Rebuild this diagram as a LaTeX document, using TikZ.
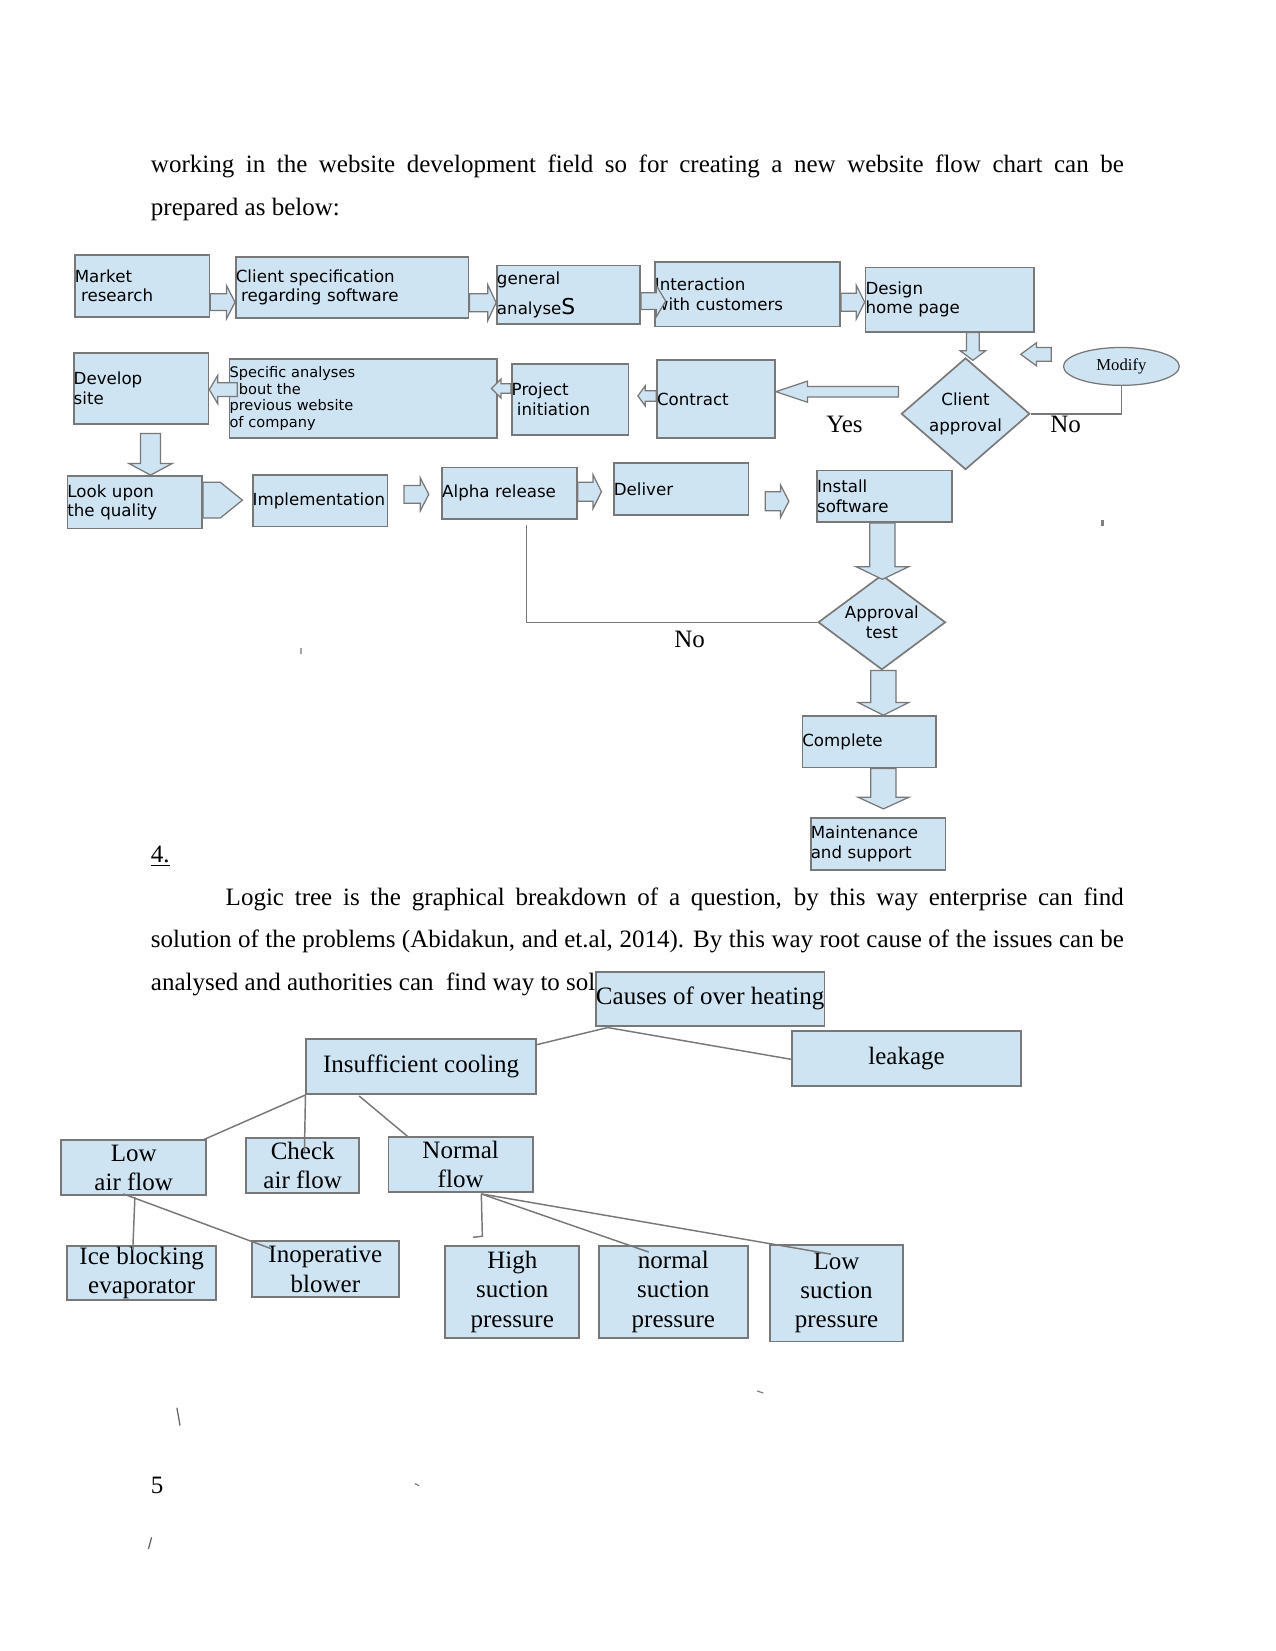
\documentclass[tikz,border=0pt]{standalone}
\usepackage{fontspec}
\setmainfont{Liberation Serif}
\newfontfamily\dvsans{DejaVu Sans}
\usetikzlibrary{calc,shapes.geometric}
\definecolor{boxfill}{RGB}{207,228,243}
\definecolor{boxline}{RGB}{120,120,120}

\newcommand\fb[7][]{%
 \pgfmathsetmacro\mybw{(#5-#3)*0.50534}%
 \pgfmathsetmacro\mybh{(#6-#4)*0.50534}%
 \node[fbox, minimum width=\mybw pt, minimum height=\mybh pt, text width=\mybw pt, #1] (#2) at ({(#3+#5)/2},{(#4+#6)/2}) {#7};}
\newcommand\tb[7][]{%
 \pgfmathsetmacro\mybw{(#5-#3)*0.50534}%
 \pgfmathsetmacro\mybh{(#6-#4)*0.50534}%
 \node[tbox, minimum width=\mybw pt, minimum height=\mybh pt, #1] (#2) at ({(#3+#5)/2},{(#4+#6)/2}) {#7};}
\newcommand\barrow[6][]{%
 \pgfmathsetmacro\bsw{#4*0.50534}%
 \pgfmathsetmacro\bhw{#5*0.50534}%
 \pgfmathsetmacro\bhl{#6*0.50534}%
 \coordinate (bA) at (#2);
 \coordinate (bB) at (#3);
 \coordinate (bH) at ($(bB)!\bhl pt!(bA)$);
 \draw[barr,#1] ($(bA)!\bsw pt!90:(bB)$) -- ($(bH)!\bsw pt!-90:(bA)$) -- ($(bH)!\bhw pt!-90:(bA)$) -- (bB) -- ($(bH)!\bhw pt!90:(bA)$) -- ($(bH)!\bsw pt!90:(bA)$) -- ($(bA)!\bsw pt!-90:(bB)$) -- cycle;}

\begin{document}
\begin{tikzpicture}[x=0.50534pt,y=-0.50534pt,
 fbox/.style={draw=boxline, fill=boxfill, line width=0.8pt, inner sep=0pt, align=left, font=\dvsans\fontsize{8}{9.4}\selectfont},
 tbox/.style={draw=boxline, fill=boxfill, line width=0.9pt, inner sep=0pt, align=center, font=\fontsize{12}{14}\selectfont},
 dia/.style={diamond, draw=boxline, fill=boxfill, line width=0.8pt, inner sep=0pt},
 dtext/.style={align=center, font=\dvsans\fontsize{8}{9.4}\selectfont, inner sep=0pt},
 barr/.style={draw=boxline, fill=boxfill, line width=0.6pt, line join=miter},
 conn/.style={draw=boxline, line width=0.7pt},
 lbl/.style={anchor=base, inner sep=0pt, font=\fontsize{12}{14}\selectfont},
 body/.style={anchor=base west, inner sep=0pt, font=\fontsize{12}{14}\selectfont}]

\useasboundingbox (0,0) rectangle (1211,1568);
\fill[white] (0,0) rectangle (1211,1568);

% body text
\node[body] (t1) at (143,164) {\makebox[466.9pt][s]{working in the website development field so for creating a new website flow chart can be}};
\node[body] (t2) at (143,205) {prepared as below:};
\node[body] (t3) at (143,819) {\underline{4.}};
\node[body] (t4) at (214,860) {\makebox[431pt][s]{Logic tree is the graphical breakdown of a question, by this way enterprise can find}};
\node[body] (t5) at (143,900) {\makebox[466.9pt][s]{solution of the problems (Abidakun, and et.al, 2014). By this way root cause of the issues can be}};
\node[body] (t6) at (143,941) {analysed and authorities can\ \ find way to sol};
\node[body] (t7) at (143,1418) {5};

% flowchart boxes
\fb{market}{71}{242}{199}{301}{Market\\\hspace*{3pt}research}
\fb{clientspec}{224}{244}{445}{302}{Client specification\\\hspace*{2.5pt}regarding software}
\fb{general}{472}{252}{608}{308}{general\\[4pt]analyse{\fontsize{10.5}{10}\selectfont S}}
\fb{interaction}{622}{249}{798}{310}{Interaction\\with customers}
\fb{design}{822}{254}{982}{315}{Design\\home page}
\fb{develop}{70}{335}{198}{403}{Develop\\site}
\fb[font=\dvsans\fontsize{7}{8.1}\selectfont]{specific}{218}{341}{472}{416}{Specific analyses\\\hspace*{4.5pt}bout the\\previous website\\of company}
\fb[font=\dvsans\fontsize{8}{9.6}\selectfont]{project}{486}{346}{597}{413}{Project\\\hspace*{2.5pt}initiation}
\fb{contract}{624}{342}{736}{416}{Contract}
\fb{lookupon}{64}{452}{192}{502}{Look upon\\the quality}
\fb{implementation}{240}{451}{368}{500}{Implementation}
\fb{alpha}{420}{444}{548}{493}{Alpha release}
\fb{deliver}{583}{440}{711}{489}{Deliver}
\fb{install}{776}{447}{904}{496}{Install\\software}
\fb{complete}{762}{680}{889}{729}{Complete}
\fb{maintenance}{770}{777}{898}{826}{Maintenance\\and support}

\node[dia, minimum width=61.65pt, minimum height=53.57pt,
  label={[dtext]center:Client\\[3pt]approval}] (capproval) at (917,393) {};
\node[dia, minimum width=61.15pt, minimum height=45.48pt,
  label={[dtext]center:Approval\\test}] (apptest) at (837.5,591) {};
\node[ellipse, draw=boxline, fill=boxfill, line width=0.6pt, minimum width=55.6pt, minimum height=18.2pt, inner sep=0pt, font=\fontsize{8}{9}\selectfont] (modify) at (1065,348) {Modify};

% flowchart connectors
\barrow{market.east |- 0,287}{clientspec.west |- 0,287}{8}{15.5}{8}
\barrow{clientspec.east |- 0,287.5}{general.west |- 0,287.5}{8.5}{17}{8}
\barrow{general.east |- 0,286}{$(interaction.west |- 0,286)+(11,0)$}{8}{15}{9}
\barrow{interaction.east |- 0,287}{design.west |- 0,287}{8.5}{16}{8}
\barrow{design.south -| 924,0}{$(capproval.north)+(7,3)$}{6}{12}{9}
\barrow{$(modify.west)+(-11,-11.5)$}{$(modify.west)+(-40,-11.5)$}{6.5}{11}{15}
\draw[conn] (capproval.east) -- (capproval.east -| modify.south) -- (modify.south);
\barrow{$(capproval.west)+(-2,-21)$}{contract.east |- 0,372}{5}{10}{30}
\barrow{contract.west |- 0,376}{$(project.east |- 0,376)+(8,0)$}{5}{9.5}{7}
\barrow{project.west |- 0,369}{$(specific.east |- 0,369)+(-6,0)$}{4.5}{9}{9}
\barrow{$(specific.west |- 0,370)+(8,0)$}{develop.east |- 0,370}{6.5}{13.5}{8}
\barrow{$(develop.south -| 143,0)+(0,8)$}{lookupon.north -| 143,0}{9.5}{20.5}{11}
\barrow{lookupon.east |- 0,475}{$(implementation.west |- 0,475)+(-9,0)$}{17}{17}{21}
\barrow{$(implementation.east |- 0,469.5)+(15,0)$}{$(alpha.west |- 0,469.5)+(-12,0)$}{8.5}{15.5}{8}
\barrow{alpha.east |- 0,467}{$(deliver.west |- 0,467)+(-11,0)$}{9}{16}{8}
\barrow{$(deliver.east |- 0,476)+(15,0)$}{$(install.west |- 0,476)+(-26,0)$}{9}{15.5}{8}
\barrow{install.south -| 838,0}{$(apptest.north)+(0.5,5)$}{12}{25}{12}
\barrow{apptest.south -| 839,0}{complete.north -| 839,0}{12}{24}{12}
\barrow{complete.south -| 839,0}{$(maintenance.north -| 839,0)+(0,-8)$}{12}{24}{11}
\draw[conn] (apptest.west) -- (apptest.west -| 500,0) -- ($(alpha.south -| 500,0)+(0,5)$);

\node[lbl] (yes) at (802,411) {Yes};
\node[lbl] (no1) at (1012,411) {No};
\node[lbl] (no2) at (655,615) {No};

% logic tree
\tb[font=\fontsize{12}{14}\selectfont]{causes}{566}{923}{783}{974}{Causes of over heating}
\tb{insuff}{291}{987}{509}{1039}{Insufficient cooling}
\tb{leakage}{752}{979}{970}{1031}{leakage}
\tb{lowair}{58}{1083}{196}{1135}{Low\\air flow}
\tb{check}{234}{1081}{341}{1133}{Check\\air flow}
\tb{normal}{369}{1080}{506}{1132}{Normal\\flow}
\tb{ice}{64}{1183}{205}{1235}{Ice blocking\\evaporator}
\tb{inop}{239}{1179}{379}{1232}{Inoperative\\blower}
\tb{high}{423}{1183}{550}{1271}{High\\suction\\pressure}
\tb{nsuc}{569}{1183}{710}{1271}{normal\\suction\\pressure}
\tb{lsuc}{731}{1182}{858}{1274}{Low\\suction\\pressure}

\coordinate (cb) at ($(causes.south west)+(12,1)$);
\draw[conn] (cb) -- ($(insuff.north east)+(0,6)$);
\draw[conn] (cb) -- ($(leakage.west)+(0,1)$);
\draw[conn] (insuff.south west) -- ($(lowair.north east)+(-3,0)$);
\draw[conn] (insuff.south west) -- ($(check.north west)+(56,14)$);
\draw[conn] ($(insuff.south west)+(51,1)$) -- ($(normal.north west)+(20,1)$);
\draw[conn] ($(lowair.south west)+(71,1)$) -- ($(ice.north west)+(63,5)$);
\draw[conn] ($(lowair.south west)+(60,-2)$) -- ($(inop.north west)+(20,8)$);
\coordinate (nf) at ($(normal.south west)+(89,1)$);
\draw[conn] (nf) -- ($(high.north west)+(36,-8)$) -- ($(high.north west)+(27,-7)$);
\draw[conn] (nf) -- ($(nsuc.north west)+(48,7)$);
\draw[conn] (nf) -- ($(lsuc.north west)+(59,10)$);

% stray marks
\draw[gray, line width=1.2pt] (1047,494) -- (1047,500);
\draw[gray!70, line width=1.2pt] (286,615) -- (286,621);
\draw[gray!80!black, line width=0.6pt] (168,1337) -- (171,1354);
\draw[gray, line width=0.6pt] (719,1321) -- (725,1323);
\draw[gray, line width=0.6pt] (394,1409) -- (398,1411);
\draw[gray!80!black, line width=0.6pt] (141,1471) -- (144,1460);
\end{tikzpicture}
\end{document}
